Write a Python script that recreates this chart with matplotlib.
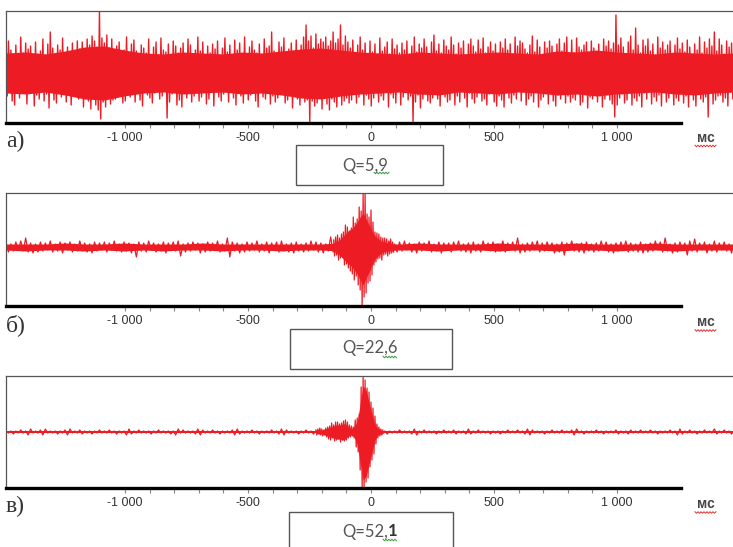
import numpy as np
import matplotlib.pyplot as plt
from matplotlib.patches import Rectangle

RED = '#ed1c24'
W, H = 733, 547

# time axis, ms
T_LEFT, T_RIGHT, T_AXIS_END = -1484, 1480, 1260
STEP_A = 5         # spacing of the spike extremes, panel a
STEP = 10          # spacing of the spike extremes, panels b and c
CORE_STEP = 80     # spacing of the dense-band envelope
MAJOR = [-1000, -500, 0, 500, 1000]
MAJOR_LABELS = ['-1 000', '-500', '0', '500', '1 000']
MINOR = list(range(-1000, 1001, 100))

# dense band (solid part of the trace), upper / lower edge, every CORE_STEP ms
core_a_up = [19, 20, 18, 21, 25, 26, 22, 19, 18, 20, 19, 18, 20, 19, 21, 23, 24, 22, 20,
             19, 18, 20, 19, 18, 19, 20, 19, 18, 21, 20, 22, 20, 19, 18, 20, 19, 18, 19]
core_a_lo = [-21, -22, -20, -23, -27, -28, -24, -21, -20, -22, -21, -20, -22, -21, -23, -26, -27, -24, -22,
             -21, -20, -22, -23, -20, -21, -22, -20, -21, -23, -22, -24, -22, -21, -20, -22, -23, -21, -20]
core_b_up = [3, 3, 3, 4, 3, 3, 4, 3, 3, 3, 4, 3, 3, 3, 3, 3, 3, 4, 3,
             3, 3, 4, 3, 3, 3, 4, 3, 3, 3, 4, 3, 3, 3, 4, 3, 3, 3, 3]
core_b_lo = [-3, -4, -3, -3, -4, -3, -4, -3, -4, -3, -3, -4, -3, -3, -4, -3, -3, -4, -3,
             -4, -3, -3, -4, -3, -3, -4, -3, -3, -4, -3, -3, -4, -3, -3, -4, -3, -3, -3]
core_c_up = [0.8] * 38
core_c_lo = [-0.8] * 38

# successive signal extremes from T_LEFT (panel a every STEP_A ms, b and c every STEP ms)
sig_a = [
    18, -24, 31, -15, 22, -29, 16, -33, 27, -19, 14, -26, 35, -21, 19, -17, 29, -32, 23, -16,
    26, -20, 15, -34, 30, -23, 18, -27, 21, -15, 33, -29, 17, -22, 28, -36, 40, -19, 24, -28,
    16, -31, 27, -18, 22, -25, 34, -16, 19, -30, 25, -21, 15, -33, 29, -24, 20, -17, 31, -27,
    23, -19, 30, -35, 18, -26, 33, -29, 27, -37, 36, -24, 31, -33, 25, -38, 61, -47, 34, -30,
    29, -35, 37, -26, 24, -32, 33, -28, 20, -27, 26, -18, 30, -24, 17, -31, 22, -29, 35, -20,
    18, -25, 28, -16, 32, -30, 21, -19, 15, -28, 27, -34, 24, -17, 19, -23, 33, -26, 16, -31,
    25, -21, 30, -18, 17, -27, 34, -24, 22, -15, 20, -46, 28, -30, 16, -22, 31, -19, 26, -33,
    19, -28, 24, -35, 29, -16, 15, -26, 33, -21, 27, -30, 18, -24, 22, -17, 35, -29, 21, -25,
    30, -18, 16, -32, 26, -27, 19, -15, 28, -34, 23, -20, 31, -25, 17, -29, 24, -22, 34, -16,
    20, -30, 27, -19, 15, -26, 32, -33, 22, -17, 29, -24, 18, -31, 35, -21, 16, -28, 25, -23,
    31, -16, 22, -29, 19, -35, 28, -20, 17, -25, 33, -27, 24, -18, 26, -32, 40, -24, 21, -30,
    18, -26, 30, -21, 25, -17, 34, -31, 16, -28, 23, -19, 29, -36, 20, -24, 32, -27, 17, -33,
    27, -22, 35, -30, 47, -28, 31, -50, 36, -29, 24, -34, 38, -31, 28, -26, 33, -37, 30, -25,
    35, -32, 26, -38, 31, -27, 40, -30, 29, -35, 33, -24, 47, -33, 27, -29, 36, -26, 30, -31,
    24, -28, 32, -20, 19, -31, 27, -25, 35, -18, 22, -33, 29, -23, 17, -27, 31, -34, 20, -26,
    28, -21, 16, -30, 34, -24, 21, -28, 25, -16, 30, -35, 18, -22, 33, -26, 23, -31, 27, -19,
    19, -33, 29, -25, 22, -17, 31, -28, 17, -24, 26, -50, 35, -30, 20, -23, 28, -36, 24, -27,
    33, -20, 25, -29, 16, -31, 30, -26, 37, -18, 21, -27, 28, -34, 19, -22, 32, -25, 26, -30,
    22, -28, 35, -17, 27, -33, 18, -24, 29, -30, 24, -19, 31, -26, 17, -35, 28, -21, 33, -27,
    26, -31, 20, -25, 32, -16, 23, -29, 34, -27, 19, -33, 25, -22, 30, -18, 21, -30, 28, -34,
    17, -24, 30, -28, 24, -35, 33, -19, 22, -26, 28, -31, 15, -23, 35, -27, 26, -17, 31, -29,
    29, -18, 23, -33, 19, -27, 27, -24, 36, -30, 20, -16, 32, -35, 25, -28, 17, -25, 30, -21,
    24, -32, 31, -20, 26, -29, 18, -34, 28, -23, 33, -27, 21, -18, 29, -31, 35, -24, 16, -30,
    32, -26, 19, -28, 34, -17, 25, -33, 22, -30, 27, -21, 30, -36, 18, -25, 31, -27, 24, -19,
    20, -30, 28, -24, 16, -35, 33, -27, 26, -19, 31, -28, 23, -32, 29, -45, 57, -33, 27, -26,
    34, -22, 25, -31, 18, -28, 30, -17, 36, -33, 22, -26, 44, -29, 27, -24, 19, -35, 32, -21,
    26, -27, 33, -20, 21, -32, 28, -25, 17, -29, 35, -23, 24, -34, 30, -18, 22, -30, 27, -26,
    31, -19, 18, -33, 27, -26, 34, -29, 23, -17, 29, -31, 20, -24, 32, -35, 25, -22, 16, -28,
    28, -34, 22, -21, 35, -27, 19, -30, 30, -25, 24, -45, 33, -18, 26, -32, 40, -28, 21, -24,
    33, -23, 27, -30, 18, -26, 31, -34, 25, -20, 29, -27, 22, -31, 17, -25, 34, -29, 26, -22,
]

sig_b = [
    4, -5, 3, -4, 5, -3, 6, -4, 9, -5, 4, -6, 3, -5, 5, -4, 4, -3, 6, -5,
    3, -4, 5, -6, 4, -3, 5, -5, 3, -4, 6, -4, 4, -5, 3, -6, 5, -4, 4, -3,
    5, -5, 4, -3, 6, -4, 3, -5, 5, -4, 4, -6, 3, -10, 5, -4, 4, -5, 6, -3,
    4, -5, 3, -4, 5, -6, 4, -3, 5, -4, 6, -9, 3, -5, 4, -4, 5, -3, 4, -6,
    3, -5, 5, -4, 4, -3, 6, -5, 3, -4, 9, -10, 5, -4, 4, -6, 3, -5, 5, -4,
    4, -3, 6, -5, 3, -4, 5, -6, 4, -3, 5, -5, 6, -4, 3, -5, 4, -6, 5, -4,
    3, -5, 4, -4, 6, -3, 5, -5, 4, -6, 3, -4, 10, -5, 4, -3, 5, -4, 3, -5,
    4, -4, 3, -5, 4, -3, 5, -4, 3, -4, 5, -3, 4, -5, 3, -4, 5, -4, 3, -5,
    5, -4, 6, -3, 4, -5, 3, -6, 5, -4, 4, -3, 6, -5, 3, -4, 5, -6, 4, -3,
    4, -5, 5, -3, 6, -4, 3, -5, 4, -6, 5, -4, 3, -5, 6, -3, 4, -4, 5, -5,
    3, -4, 6, -5, 4, -3, 5, -4, 9, -6, 3, -5, 4, -4, 5, -3, 6, -5, 4, -4,
    5, -3, 4, -6, 3, -5, 5, -8, 4, -3, 6, -4, 3, -5, 4, -6, 5, -4, 3, -5,
    4, -4, 6, -3, 5, -5, 3, -6, 4, -4, 5, -3, 6, -5, 4, -4, 3, -5, 5, -6,
    3, -5, 4, -4, 6, -3, 5, -5, 9, -4, 3, -6, 4, -5, 5, -3, 4, -8, 6, -4,
    8, -5, 4, -3, 5, -6, 3, -4, 6, -5, 4, -3, 5, -4, 3, -6, 4,
]

sig_c = [
    1, -1, 1, -2, 1, -1, 2, -1, 1, -3, 3, -1, 1, -1, 2, -3, 3, -1, 1, -1,
    1, -2, 1, -1, 2, -3, 3, -1, 1, -1, 2, -2, 1, -1, 1, -2, 1, -1, 2, -1,
    1, -1, 2, -1, 1, -2, 1, -1, 1, -3, 3, -2, 1, -1, 2, -1, 1, -1, 1, -2,
    1, -1, 2, -1, 1, -1, 1, -2, 1, -3, 3, -1, 2, -1, 1, -1, 1, -2, 3, -3,
    2, -1, 1, -1, 2, -1, 1, -2, 1, -1, 1, -1, 2, -3, 3, -2, 1, -1, 1, -1,
    2, -1, 1, -2, 1, -1, 1, -1, 2, -1, 1, -2, 3, -3, 2, -1, 1, -1, 1, -2,
    1, -1, 2, -1, 1, -2, 1, -1, 1, -1, 1, -1, 1, -1, 1, -1, 1, -1, 1, -1,
    1, -1, 1, -1, 1, -1, 1, -1, 1, -1, 1, -1, 2, -1, 1, -2, 1, -1, 1, -1,
    2, -1, 1, -1, 1, -2, 3, -3, 1, -1, 2, -1, 1, -1, 1, -2, 1, -1, 2, -1,
    1, -1, 2, -2, 1, -1, 1, -2, 3, -2, 1, -1, 2, -1, 1, -1, 1, -2, 1, -1,
    1, -2, 1, -1, 2, -1, 1, -1, 2, -1, 1, -2, 3, -3, 2, -1, 1, -1, 1, -2,
    1, -1, 2, -1, 1, -1, 2, -1, 1, -1, 2, -3, 3, -1, 1, -2, 1, -1, 1, -1,
    2, -1, 1, -2, 1, -1, 1, -1, 2, -2, 1, -1, 1, -2, 2, -1, 1, -1, 2, -1,
    1, -1, 2, -1, 1, -2, 1, -1, 1, -1, 2, -1, 1, -3, 3, -2, 1, -1, 2, -1,
    1, -2, 1, -1, 2, -1, 1, -1, 3, -2, 1, -1, 2, -1, 1, -2, 1,
]

# bursts near zero: extremes every BURST_STEP ms, dense band every BURST_CORE_STEP ms
BURST_STEP = 4
BURST_CORE_STEP = 12
burst_b_start = -152
burst_b = [
    7, -9, 10, -8, 12, -13, 9, -11, 13, -10,
    15, -18, 22, -17, 20, -21, 16, -24,
    19, -27, 30, -33, 24, -29, 28,
    -38, 40, -43, 36,
    -59, 54, -50, 54, -46,
    33, -36, 30, -34, 37, -28, 25,
    -18, 15, -15, 14, -12, 13, -11, 10, -13, 9,
    -8, 9, -7, 8, -9, 6, -7, 8, -6, 5, -5,
]
burst_b_up = [4, 5, 7, 10, 13, 16, 18, 21, 25, 30, 34, 28, 22, 16, 11, 8, 6, 5, 4, 4, 3]
burst_b_lo = [-4, -6, -8, -11, -14, -17, -19, -23, -27, -33, -38, -31, -25, -18, -12, -9, -6, -5, -4, -4, -3]

burst_c_start = -224
burst_c = [
    2, -3, 3, -2, 4, -3, 3, -4, 2, -3, 4,
    -5, 5, -7, 6, -8, 9, -6, 7, -9, 10, -8,
    10, -7, 8, -10, 9, -8, 11, -9, 12, -8, 10,
    -6, 7, -5, 6, -4, 5, -6,
    12, -15, 14, -20, 18,
    -38, 45, -56, 56,
    -56, 52, -50,
    44, -46, 40, -35,
    30, -28, 24, -22, 16,
    -12, 8, -6, 5, -4, 3, -3, 2,
]
burst_c_up = [1, 2, 2, 3, 4, 5, 6, 7, 7, 8, 8, 5, 3, 5, 10, 28, 46, 42, 30, 18, 7, 3, 2, 1]
burst_c_lo = [-1, -2, -2, -3, -4, -5, -6, -7, -7, -8, -7, -4, -3, -5, -12, -30, -48, -44, -32, -20, -7, -3, -2, -1]

q_values = ['5,9', '22,6', '52,1']
letters = ['а)', 'б)', 'в)']

fig = plt.figure(figsize=(W / 100, H / 100), dpi=100, facecolor='white')


def px(x, y):
    return x / W, 1 - y / H


def wavy(x0, x1, y, color):
    xs = np.arange(x0, x1 + 0.1, 1.5)
    ys = y + np.where(np.arange(len(xs)) % 2 == 0, -0.8, 0.8)
    fig.add_artist(plt.Line2D(xs / W, 1 - ys / H, color=color, lw=0.7))


def trace(ax, start, step, vals, core_step, up, lo, lw=0.9):
    tc = start + core_step * np.arange(len(up))
    ax.fill_between(tc, lo, up, color=RED, lw=0)
    t = start + step * np.arange(len(vals))
    ax.plot(t, vals, color=RED, lw=lw)


# panel layout in pixels: top, bottom (axis line), signal zero line
panels = [
    dict(top=11, bottom=123, zero=72, sig=sig_a, step=STEP_A, core=(core_a_up, core_a_lo),
         burst=None, lab_y=137.5, let_y=141, box=(296, 145, 443, 185), q_xy=(365.5, 165.5),
         wav=(374, 389, 173)),
    dict(top=193, bottom=306, zero=247, sig=sig_b, step=STEP, core=(core_b_up, core_b_lo),
         burst=(burst_b_start, burst_b, burst_b_up, burst_b_lo),
         lab_y=322, let_y=325, box=(290, 329, 452, 369), q_xy=(370, 347.5),
         wav=(383, 397, 357)),
    dict(top=376, bottom=488, zero=432, sig=sig_c, step=STEP, core=(core_c_up, core_c_lo),
         burst=(burst_c_start, burst_c, burst_c_up, burst_c_lo),
         lab_y=504, let_y=506, box=(289, 512, 453, 570), q_xy=(369, 531.5),
         wav=(383, 397, 540)),
]

for i, p in enumerate(panels):
    l, b = px(6, p['bottom'])
    ax = fig.add_axes([l, b, (735 - 6) / W, (p['bottom'] - p['top']) / H])
    ax.set_facecolor('none')

    trace(ax, T_LEFT, p['step'], p['sig'], CORE_STEP, *p['core'], lw=1.0 if i == 0 else 0.9)
    if p['burst'] is not None:
        start, vals, up, lo = p['burst']
        trace(ax, start, BURST_STEP, vals, BURST_CORE_STEP, up, lo)

    ax.set_xlim(T_LEFT, T_RIGHT)
    ax.set_ylim(-(p['bottom'] - p['zero']), p['zero'] - p['top'])

    for s in ['left', 'top']:
        ax.spines[s].set_color('#555555')
        ax.spines[s].set_linewidth(0.9)
    ax.spines['right'].set_visible(False)
    ax.spines['bottom'].set_bounds(T_LEFT, T_AXIS_END)
    ax.spines['bottom'].set_linewidth(2.4)
    ax.spines['bottom'].set_color('black')

    ax.set_yticks([])
    ax.set_xticks(MAJOR)
    ax.set_xticklabels(MAJOR_LABELS, family='Liberation Sans', fontsize=9, color='#333333')
    ax.set_xticks(MINOR, minor=True)
    ax.tick_params(axis='x', which='both', direction='out', length=3.8, width=0.8,
                   color='#888888', pad=2.5)

    # unit label
    fig.text(*px(706, p['lab_y']), 'мс', family='Liberation Sans', fontsize=10,
             fontweight='bold', color='#444444', ha='center', va='center')
    wavy(695, 716, p['lab_y'] + 8.5, '#e03030')

    # panel letter
    fig.text(*px(6, p['let_y']), letters[i], family='Liberation Serif', fontsize=17,
             color='#333333', ha='left', va='center')

    # Q box
    x0, y0, x1, y1 = p['box']
    fig.add_artist(Rectangle(px(x0, y1), (x1 - x0) / W, (y1 - y0) / H,
                             transform=fig.transFigure, fill=False,
                             edgecolor='#555555', lw=1.0))
    qx, qy = p['q_xy']
    if i < 2:
        fig.text(*px(qx, qy), 'Q=' + q_values[i], family='Lato', fontsize=12,
                 color='#555555', ha='center', va='center')
    else:
        head, tail = q_values[i].split(',')
        fig.text(*px(388, qy), 'Q=' + head + ',', family='Lato', fontsize=12,
                 color='#555555', ha='right', va='center')
        fig.text(*px(388, qy), tail, family='Lato', fontsize=12, fontweight='bold',
                 color='#333333', ha='left', va='center')
    wx0, wx1, wy = p['wav']
    wavy(wx0, wx1, wy, '#3a9a3a')

fig.savefig('out.png', dpi=100, facecolor='white')
